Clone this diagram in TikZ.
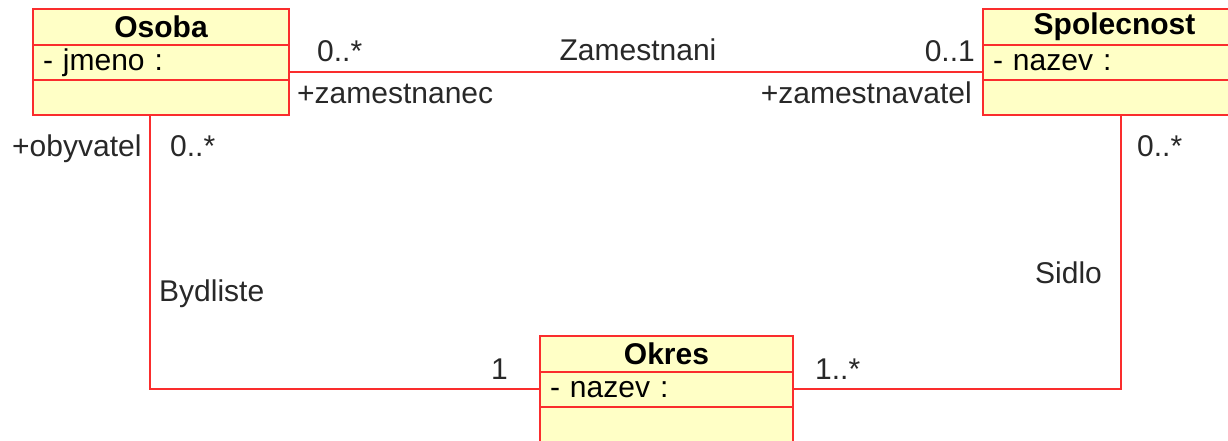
\documentclass[tikz,border=0pt]{standalone}
\usepackage{fontspec}
\setmainfont{Liberation Sans}
\usetikzlibrary{positioning}
\definecolor{umlfill}{RGB}{255,255,198}
\definecolor{umlline}{RGB}{250,45,45}
\definecolor{labtext}{RGB}{40,40,40}
\newcommand\umlsize{\fontsize{30}{36}\selectfont}
\tikzset{
  head/.style={draw=umlline,fill=umlfill,line width=1.5pt,font=\umlsize\bfseries,
    text=black,minimum height=36,anchor=north west,inner sep=0pt,outer sep=0pt},
  attr/.style={draw=umlline,fill=umlfill,line width=1.5pt,minimum height=35,
    align=left,inner xsep=10pt,inner ysep=0pt,outer sep=0pt,text=black},
  meth/.style={draw=umlline,fill=umlfill,line width=1.5pt,minimum height=35,
    inner sep=0pt,outer sep=0pt},
  assoc/.style={draw=umlline,line width=1.5pt},
  lab/.style={text=labtext,inner sep=0pt}
}

\begin{document}
\begin{tikzpicture}[x=1pt,y=-1pt,font=\umlsize]
  \useasboundingbox (0,0) rectangle (1228,441);
  % classes
  \node[head,minimum width=256] (osoba) at (33,9) {Osoba};
  \node[attr,text width=236pt,below=0pt of osoba] (osoba attr) {- jmeno :};
  \node[meth,minimum width=256,below=0pt of osoba attr] (osoba meth) {};

  \node[head,minimum width=263] (spol) at (983,9) {Spolecnost};
  \node[attr,text width=243pt,below=0pt of spol] (spol attr) {- nazev :};
  \node[meth,minimum width=263,below=0pt of spol attr] (spol meth) {};

  \node[head,minimum width=253] (okres) at (540,336) {Okres};
  \node[attr,text width=233pt,below=0pt of okres] (okres attr) {- nazev :};
  \node[meth,minimum width=253,below=0pt of okres attr] (okres meth) {};

  % associations
  \draw[assoc] ([yshift=-9.5pt]osoba attr.east) -- ([yshift=-9.5pt]spol attr.west);
  \draw[assoc] ([xshift=-11pt]osoba meth.south) |- ([yshift=0.5pt]okres attr.west);
  \draw[assoc] ([xshift=138pt]spol meth.south west) |- ([yshift=0.5pt]okres attr.east);

  % labels
  \node[lab,anchor=base west] (m1) at (317,62) {0..*};
  \node[lab,anchor=base] (zam) at (638,61) {Zamestnani};
  \node[lab,anchor=base east] (m2) at (975,62) {0..1};
  \node[lab,anchor=base west] (r1) at (297,104) {+zamestnanec};
  \node[lab,anchor=base east] (r2) at (972,104) {+zamestnavatel};
  \node[lab,anchor=base west] (r3) at (12,157) {+obyvatel};
  \node[lab,anchor=base west] (m3) at (170,157) {0..*};
  \node[lab,anchor=base west] (m4) at (1137,157) {0..*};
  \node[lab,anchor=base west] (byd) at (159,301) {Bydliste};
  \node[lab,anchor=base west] (sid) at (1035,283) {Sidlo};
  \node[lab,anchor=base east] (m5) at (508,379) {1};
  \node[lab,anchor=base west] (m6) at (815,379) {1..*};
\end{tikzpicture}
\end{document}
